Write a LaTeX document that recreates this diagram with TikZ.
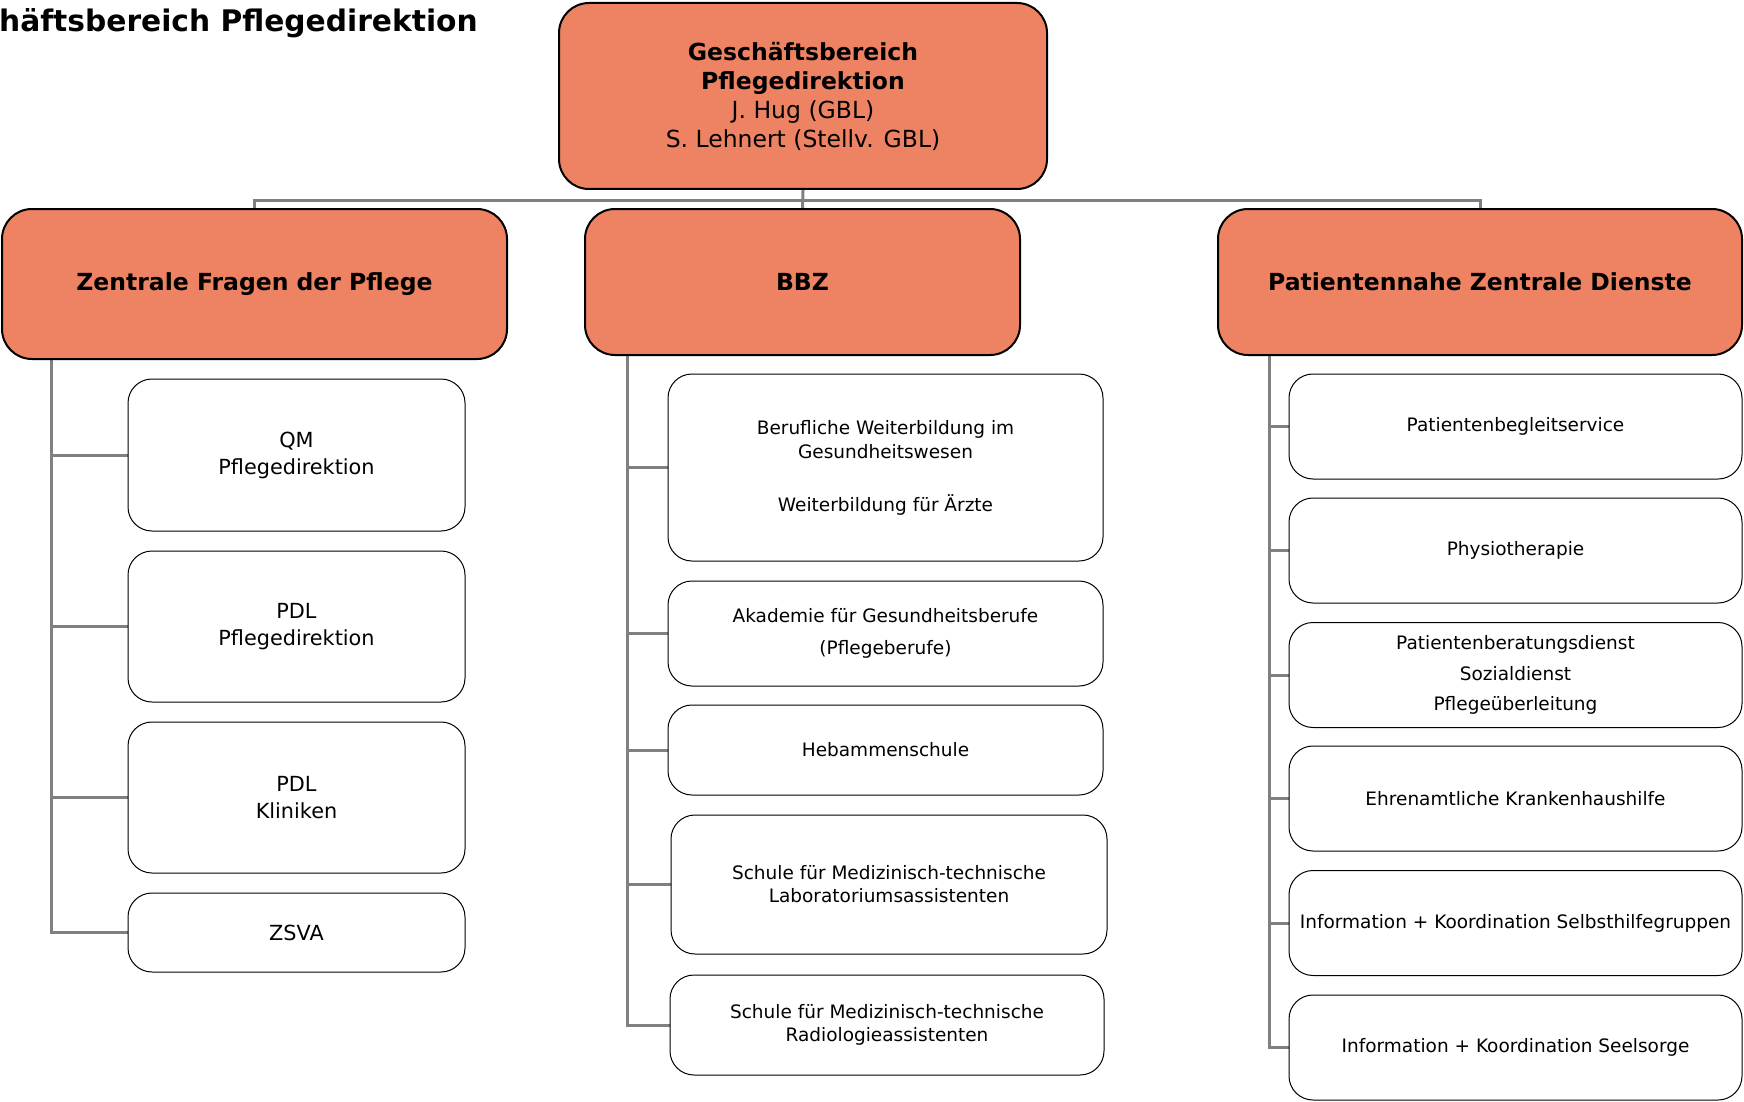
\documentclass[tikz,border=0pt]{standalone}
\usepackage{fontspec}
\setmainfont{DejaVu Sans}
\usetikzlibrary{backgrounds}
\definecolor{salmon}{RGB}{237,131,98}
\definecolor{linegray}{RGB}{128,128,128}

\begin{document}
\begin{tikzpicture}[x=1pt,y=-1pt,
	head/.style={draw=black, line width=2pt, fill=salmon, rounded corners=30pt, align=center, inner sep=0pt, font=\bfseries\fontsize{23.5}{29}\selectfont},
	unit/.style={draw=black, line width=1pt, fill=white, rounded corners=24pt, align=center, inner sep=0pt, font=\fontsize{18.5}{24}\selectfont},
	link/.style={draw=linegray, line width=3pt}]

	\useasboundingbox (0,0) rectangle (1744,1102);
	\clip (0,0) rectangle (1744,1102);

	%page title, cut at the left border
	\node [anchor=base east, inner sep=0pt, font=\bfseries\fontsize{29.7}{35}\selectfont] (title) at (478,32) {Geschäftsbereich Pflegedirektion};

	%top box
	\node [head, minimum width=488, minimum height=186] (gbl) at (803,96)
		{Geschäftsbereich\\Pflegedirektion\\\mdseries J. Hug (GBL)\\\mdseries S. Lehnert (Stellv. GBL)};

	%second level
	\node [head, minimum width=505, minimum height=150] (zfp) at (254.5,284) {Zentrale Fragen der Pflege};
	\node [head, minimum width=435, minimum height=146] (bbz) at (802.5,282) {BBZ};
	\node [head, minimum width=524, minimum height=146] (pzd) at (1480,282) {Patientennahe Zentrale Dienste};

	%left column
	\def\leftx{296.5}
	\foreach \unitname/\ypos/\boxh/\label in {qm/455/152/{QM\\Pflegedirektion}, pdlp/626.5/151/{PDL\\Pflegedirektion}, pdlk/797.5/151/{PDL\\Kliniken}, zsva/932.5/79/{ZSVA}}
	{
		\node [unit, font=\fontsize{20.8}{27}\selectfont, minimum width=337, minimum height=\boxh] (\unitname) at (\leftx,\ypos) {\label};
	}

	%middle column
	\node [unit, minimum width=435, minimum height=187] (bwg) at (885.5,467.5)
		{Berufliche Weiterbildung im\\Gesundheitswesen\\[29pt]Weiterbildung für Ärzte};
	\node [unit, font=\fontsize{18.5}{32}\selectfont, minimum width=435, minimum height=105] (akad) at (885.5,633.5)
		{Akademie für Gesundheitsberufe\\(Pflegeberufe)};
	\node [unit, minimum width=435, minimum height=90] (heb) at (885.5,750) {Hebammenschule};
	\node [unit, font=\fontsize{18.5}{23}\selectfont, minimum width=436, minimum height=139] (mtla) at (889,884.5)
		{Schule für Medizinisch-technische\\Laboratoriumsassistenten};
	\node [unit, font=\fontsize{18.5}{23}\selectfont, minimum width=434, minimum height=100] (mtra) at (887,1025)
		{Schule für Medizinisch-technische\\Radiologieassistenten};

	%right column
	\def\rightx{1515.5}
	\foreach \unitname/\ypos/\label in {pbs/426.5/{Patientenbegleitservice}, phys/550.5/{Physiotherapie}, pbd/675/{Patientenberatungsdienst\\Sozialdienst\\Pflegeüberleitung}, ekh/798.5/{Ehrenamtliche Krankenhaushilfe}, shg/923/{Information + Koordination Selbsthilfegruppen}, seel/1047.5/{Information + Koordination Seelsorge}}
	{
		\node [unit, font=\fontsize{18.5}{30.5}\selectfont, minimum width=453, minimum height=105] (\unitname) at (\rightx,\ypos) {\label};
	}

	%connectors
	\begin{scope}[on background layer]
		\coordinate (bus) at (802,200);
		\draw [link] (gbl.south) -- (bbz.north);
		\draw [link] (zfp.north) |- (bus) -| (pzd.north);

		\foreach \unitname in {qm, pdlp, pdlk, zsva}
			\draw [link] ([xshift=50pt]zfp.south west) |- (\unitname.west);

		\foreach \unitname in {bwg, akad, heb, mtla, mtra}
			\draw [link] ([xshift=43pt]bbz.south west) |- (\unitname.west);

		\foreach \unitname in {pbs, phys, pbd, ekh, shg, seel}
			\draw [link] ([xshift=52pt]pzd.south west) |- (\unitname.west);
	\end{scope}

\end{tikzpicture}
\end{document}
